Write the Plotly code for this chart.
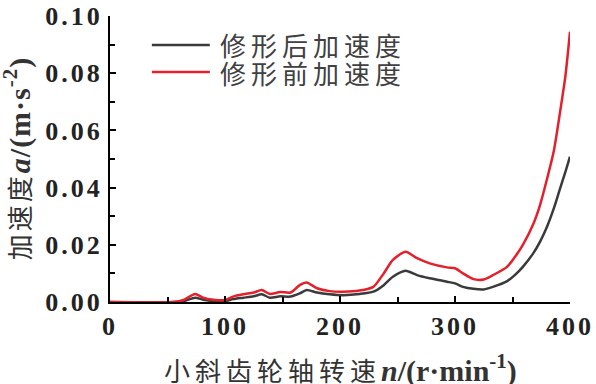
import plotly.graph_objects as go

# speed n (r/min)
speed = [0, 55, 64, 74, 81, 90, 100, 107, 116, 125, 132, 139, 148, 157, 165, 171, 180,
         191, 203, 217, 229, 238, 246, 257, 267, 278, 293, 300, 307, 316, 325, 333, 345,
         352, 359, 368, 374, 380, 386, 391, 396, 400]
# acceleration after modification (black)
acc_after = [0, 0, 0.0003, 0.0015, 0.0008, 0.0003, 0.0003, 0.0010, 0.0015, 0.0020, 0.0027,
             0.0015, 0.0020, 0.0019, 0.0030, 0.0042, 0.0033, 0.0027, 0.0024, 0.0028, 0.0036,
             0.0059, 0.0088, 0.0109, 0.0094, 0.0083, 0.0071, 0.0065, 0.0053, 0.0046, 0.0044,
             0.0053, 0.0072, 0.0094, 0.0123, 0.0170, 0.0211, 0.0263, 0.0328, 0.0392, 0.0455,
             0.0508]
# acceleration before modification (red)
acc_before = [0, 0, 0.0007, 0.0028, 0.0015, 0.0008, 0.0007, 0.0019, 0.0027, 0.0033, 0.0042,
              0.0028, 0.0035, 0.0033, 0.0059, 0.0068, 0.0048, 0.0038, 0.0036, 0.0040, 0.0053,
              0.0100, 0.0147, 0.0176, 0.0153, 0.0135, 0.0121, 0.0118, 0.0100, 0.0080, 0.0079,
              0.0094, 0.0122, 0.0157, 0.0200, 0.0272, 0.0340, 0.0430, 0.0530, 0.0655, 0.0790,
              0.0945]

series_names = ["修形后加速度", "修形前加速度"]
series_colors = ["#3a3a3a", "#e3202b"]
x_ticks = [0, 100, 200, 300, 400]
y_ticks = [0.00, 0.02, 0.04, 0.06, 0.08, 0.10]

SERIF = "Liberation Serif"
CJK = "Noto Sans CJK SC"


def spaced(t, px):
    return f'<span style="letter-spacing:{px}px">{t}</span>'


def serif_part(html, px):
    return f'<span style="font-family:{SERIF};font-size:30px;letter-spacing:{px}px"><b>{html}</b></span>'


fig = go.Figure()
for vals, name, col in zip([acc_after, acc_before], series_names, series_colors):
    fig.add_trace(go.Scatter(x=speed, y=vals, mode="lines", name=name, showlegend=False,
                             line=dict(color=col, width=2.5, shape="spline", smoothing=0.7)))

# legend (keys + labels)
leg_y = [0.899, 0.804]
for name, col, yy in zip(series_names, series_colors, leg_y):
    fig.add_shape(type="line", xref="paper", yref="paper", x0=0.091, x1=0.217, y0=yy, y1=yy,
                  line=dict(color=col, width=2.5))
    fig.add_annotation(xref="paper", yref="paper", x=0.234, y=yy, xanchor="left",
                       yanchor="middle", showarrow=False, text=spaced(name, 5),
                       font=dict(family=CJK, size=26, color="#404040"))

# axis titles
fig.add_annotation(xref="paper", yref="paper", x=-0.202, y=0.503, textangle=-90,
                   xanchor="center", yanchor="middle", showarrow=False,
                   text=spaced("加速度", 3) + serif_part("<i>a</i>/(m·s<sup>-2</sup>)", 1),
                   font=dict(family=CJK, size=26, color="#333333"))
fig.add_annotation(xref="paper", yref="paper", x=0.502, y=-0.233,
                   xanchor="center", yanchor="middle", showarrow=False,
                   text=spaced("小斜齿轮轴转速", 5) + serif_part("<i>n</i>/(r·min<sup>-1</sup>)", 0),
                   font=dict(family=CJK, size=26, color="#333333"))

fig.update_layout(
    width=596, height=384,
    margin=dict(l=110, r=26, t=16, b=82),
    paper_bgcolor="white", plot_bgcolor="white",
    font=dict(family=CJK, color="#333333"),
)

common_axis = dict(
    automargin=False,
    showline=True, linecolor="black", linewidth=2, mirror=False,
    ticks="inside", ticklen=6, tickwidth=2, tickcolor="black",
    showgrid=False, zeroline=False,
    tickfont=dict(family=SERIF, size=26, color="#222222", weight="bold"),
)
fig.update_xaxes(
    range=[0, 400], tickvals=x_ticks, ticktext=[spaced(str(v), 3) for v in x_ticks],
    minor=dict(dtick=50, ticks="inside", ticklen=5, tickwidth=2, tickcolor="black"),
    **common_axis,
)
fig.update_yaxes(
    range=[0, 0.1], tickvals=y_ticks, ticktext=[spaced(f"{v:.2f}", 3) for v in y_ticks],
    minor=dict(dtick=0.01, ticks="inside", ticklen=5, tickwidth=2, tickcolor="black"),
    **common_axis,
)

fig.write_html("out.html", config={"displayModeBar": False},
               post_script="document.body.style.margin='0';document.body.style.overflow='hidden';")
